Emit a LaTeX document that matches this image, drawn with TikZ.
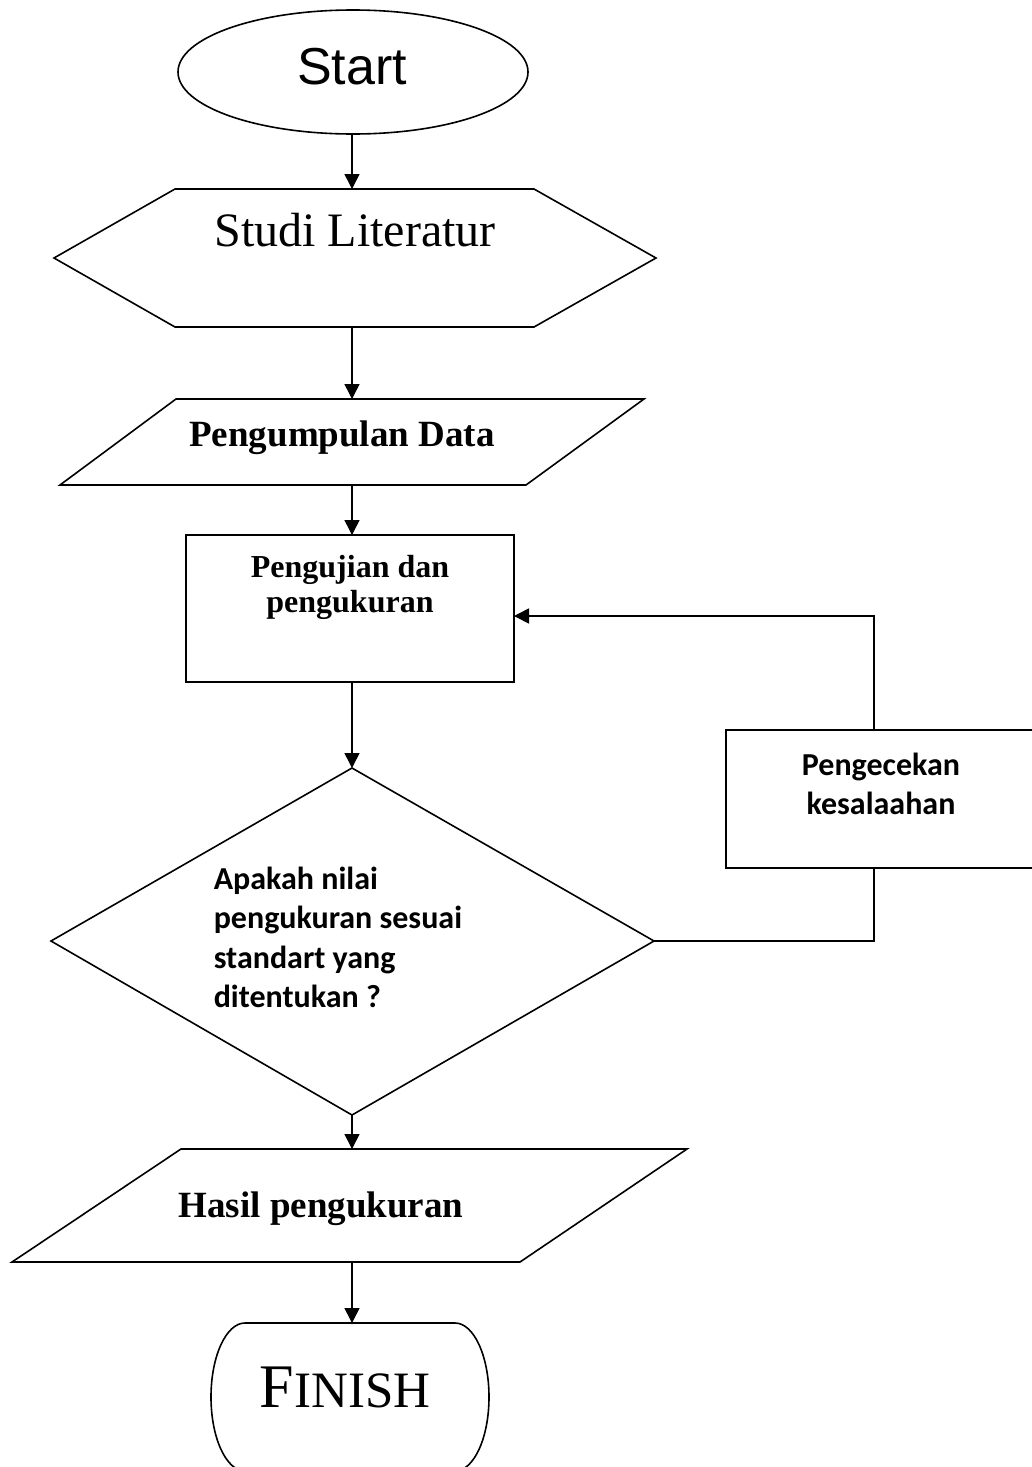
\documentclass[tikz,border=0pt]{standalone}
\usepackage{fontspec}
\setmainfont{Liberation Serif}
\newfontfamily\arialf{Liberation Sans}
\newfontfamily\calib{Carlito}
\usetikzlibrary{arrows.meta}
\begin{document}
\begin{tikzpicture}[x=1pt,y=-1pt,line width=1.6pt,
  arr/.style={-{Triangle[length=15pt,width=15pt]}},
  lbl/.style={inner sep=0pt,anchor=base},
  lblw/.style={inner sep=0pt,anchor=base west},
  serbold/.style={font=\bfseries\fontsize{37}{44}\selectfont},
  serbolds/.style={font=\bfseries\fontsize{32}{38}\selectfont},
  calb/.style={font=\calib\bfseries\fontsize{32}{39}\selectfont}]
\useasboundingbox (0,0) rectangle (1032,1467);
\clip (0,0) rectangle (1032,1467);

% Start
\draw (353,72) ellipse [x radius=175, y radius=62];
\node[lbl,font=\arialf\fontsize{52}{60}\selectfont] (start) at (352,84) {Start};
\coordinate (startB) at (352,134);

% Studi Literatur (hexagon)
\draw (175,189) -- (534,189) -- (656,258) -- (534,327) -- (175,327) -- (54,258) -- cycle;
\node[lbl,font=\fontsize{48}{56}\selectfont] (lit) at (355,246) {Studi Literatur};
\coordinate (litT) at (352,189);
\coordinate (litB) at (352,327);

% Pengumpulan Data (parallelogram)
\draw (176,399) -- (644,399) -- (526,485) -- (60,485) -- cycle;
\node[lbl,serbold] (data) at (342,446) {Pengumpulan Data};
\coordinate (dataT) at (352,399);
\coordinate (dataB) at (352,485);

% Pengujian dan pengukuran (rectangle)
\draw (186,535) rectangle (514,682);
\node[lbl,serbolds] (uji1) at (350,577) {Pengujian dan};
\node[lbl,serbolds] (uji2) at (350,612) {pengukuran};
\coordinate (ujiT) at (352,535);
\coordinate (ujiB) at (352,682);
\coordinate (ujiR) at (514,616);

% Decision (diamond)
\draw (352,768) -- (654,941) -- (352,1115) -- (51,941) -- cycle;
\node[lblw,calb] (dec1) at (213,889) {Apakah nilai};
\node[lblw,calb] (dec2) at (213,928) {pengukuran sesuai};
\node[lblw,calb] (dec3) at (213,968) {standart yang};
\node[lblw,calb] (dec4) at (213,1007) {ditentukan ?};
\coordinate (decT) at (352,768);
\coordinate (decR) at (654,941);
\coordinate (decB) at (352,1115);

% Pengecekan kesalaahan (rectangle)
\draw (726,730) rectangle (1040,868);
\node[lbl,calb] (chk1) at (881,775) {Pengecekan};
\node[lbl,calb] (chk2) at (881,814) {kesalaahan};
\coordinate (chkT) at (874,730);
\coordinate (chkB) at (874,868);

% Hasil pengukuran (parallelogram)
\draw (181,1149) -- (687,1149) -- (520,1262) -- (12,1262) -- cycle;
\node[lbl,serbold] (hasil) at (321,1217) {Hasil pengukuran};
\coordinate (hasilT) at (352,1149);
\coordinate (hasilB) at (352,1262);

% Finish
\draw (245,1323) -- (455,1323)
  .. controls (473.8,1323) and (489,1356.1) .. (489,1397)
  .. controls (489,1437.9) and (473.8,1471) .. (455,1471)
  -- (245,1471)
  .. controls (226.2,1471) and (211,1437.9) .. (211,1397)
  .. controls (211,1356.1) and (226.2,1323) .. (245,1323) -- cycle;
\node[lbl] (fin) at (345,1407) {\fontsize{62}{72}\selectfont F\fontsize{51}{60}\selectfont INISH};
\coordinate (finT) at (352,1323);

% connectors
\draw[arr] (startB) -- (litT);
\draw[arr] (litB) -- (dataT);
\draw[arr] (dataB) -- (ujiT);
\draw[arr] (ujiB) -- (decT);
\draw[arr] (decB) -- (hasilT);
\draw[arr] (hasilB) -- (finT);
\draw (decR) -| (chkB);
\draw[arr] (chkT) |- (ujiR);
\end{tikzpicture}
\end{document}
